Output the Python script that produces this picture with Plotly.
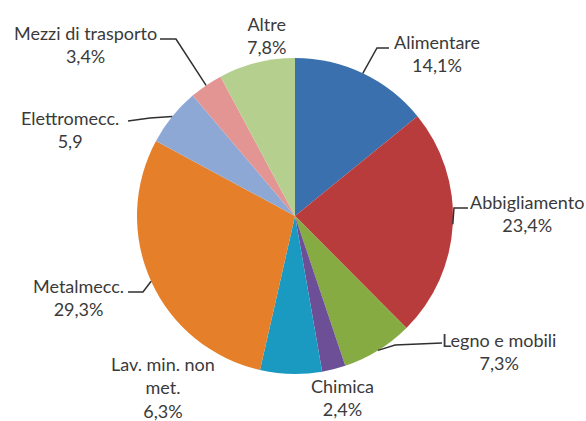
import math
import plotly.graph_objects as go

# dati (percentuali per settore)
settori = ["Alimentare", "Abbigliamento", "Legno e mobili", "Chimica",
           "Lav. min. non met.", "Metalmecc.", "Elettromecc.",
           "Mezzi di trasporto", "Altre"]
valori = [14.1, 23.4, 7.3, 2.4, 6.3, 29.3, 5.9, 3.4, 7.8]
etichette = ["Alimentare<br>14,1%", "Abbigliamento<br>23,4%", "Legno e mobili<br>7,3%",
             "Chimica<br>2,4%", "Lav. min. non<br>met.<br>6,3%", "Metalmecc.<br>29,3%",
             "Elettromecc.<br>5,9", "Mezzi di trasporto<br>3,4%", "Altre<br>7,8%"]
colori = ["#3a70ad", "#b93c3d", "#86ab42", "#6c4f97", "#1a9ac0",
          "#e57f29", "#8ea8d6", "#e39594", "#b5cf8e"]

W, H = 586, 421
CX, CY, R = 295, 216, 158

# posizione testo (px) e gomiti delle linee guida (px), None = senza linea
pos_testo = [(437, 54), (527, 213), (499, 351), (342, 397), (163, 387),
             (78, 297), (70, 129), (85, 44), (266, 35)]
gomiti = [[(377, 48), (389, 48)], [(454, 208), (468, 208)], [(395, 345), (442, 343)],
          None, None, [(143, 292), (128, 292)], [(150, 118), (128, 121)],
          [(176, 39), (160, 39)], None]


def px(x, y):
    return x / W, 1 - y / H


fig = go.Figure(go.Pie(
    labels=settori,
    values=valori,
    sort=False,
    direction="clockwise",
    rotation=0,
    textinfo="none",
    hoverinfo="label+percent",
    marker=dict(colors=colori, line=dict(width=0)),
    domain=dict(x=[(CX - R) / W, (CX + R) / W], y=[1 - (CY + R) / H, 1 - (CY - R) / H]),
    showlegend=False,
))

tot = sum(valori)
cum = 0
for i, v in enumerate(valori):
    ang = 2 * math.pi * (cum + v / 2) / tot
    cum += v
    tx, ty = px(*pos_testo[i])
    fig.add_annotation(x=tx, y=ty, xref="paper", yref="paper", text=etichette[i],
                       showarrow=False, xanchor="center", yanchor="middle",
                       font=dict(family="Lato", size=18, color="#3a3a3a"))
    if gomiti[i] is None:
        continue
    pts = [(CX + R * math.sin(ang), CY - R * math.cos(ang))] + gomiti[i]
    path = "M " + " L ".join("%.4f,%.4f" % px(x, y) for x, y in pts)
    fig.add_shape(type="path", path=path, xref="paper", yref="paper",
                  line=dict(color="#303030", width=1.5))

fig.update_layout(
    width=W, height=H,
    margin=dict(t=0, b=0, l=0, r=0),
    paper_bgcolor="white",
    plot_bgcolor="white",
)

# niente margine della pagina, così la figura parte dall'angolo
fig.write_html("out.html", config={"displayModeBar": False},
               post_script="document.body.style.margin='0';")
